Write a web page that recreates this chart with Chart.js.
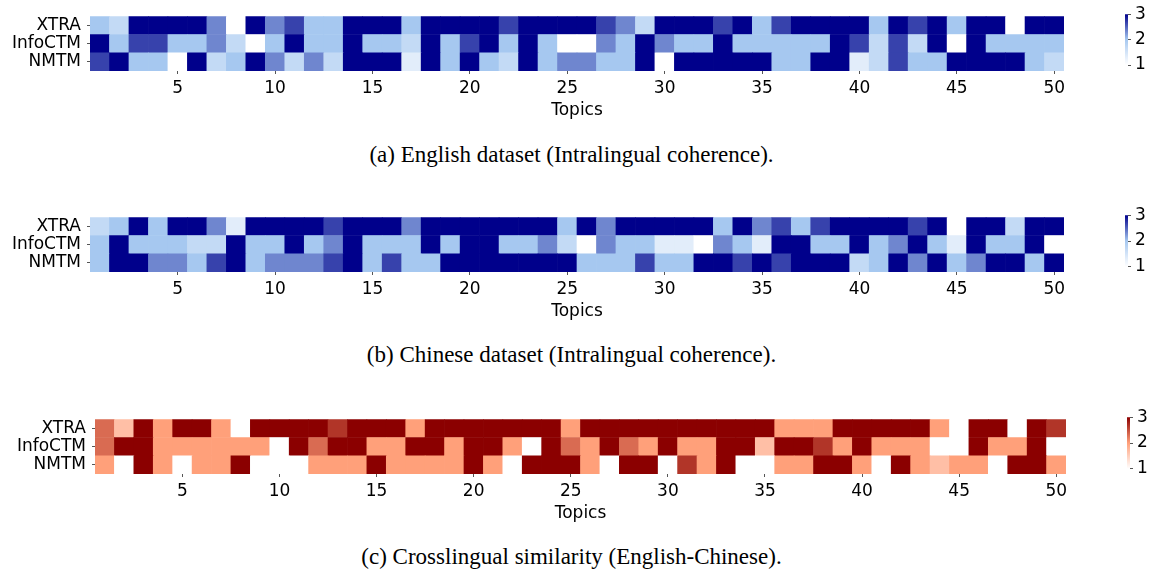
<!DOCTYPE html>
<html>
<head>
<meta charset="utf-8">
<script src="https://cdn.jsdelivr.net/npm/chart.js@4.4.1/dist/chart.umd.min.js"></script>
<style>
    body { margin: 0; background: #fff; width: 1153px; height: 574px; position: relative; overflow: hidden; }
    canvas { position: absolute; }
    .caption {
        position: absolute; left: 0; width: 1143px; text-align: center;
        font-family: "Liberation Serif", "Times New Roman", serif; font-size: 23px;
        line-height: 26px; color: #000;
    }
</style>
</head>
<body>
<canvas id="heatEn" width="1153" height="124" style="left:0;top:0"></canvas>
<canvas id="cbarEn" width="53" height="80" style="left:1100px;top:0"></canvas>
<div class="caption" style="top:142px">(a) English dataset (Intralingual coherence).</div>

<canvas id="heatZh" width="1153" height="124" style="left:0;top:201px"></canvas>
<canvas id="cbarZh" width="53" height="80" style="left:1100px;top:201px"></canvas>
<div class="caption" style="top:342px">(b) Chinese dataset (Intralingual coherence).</div>

<canvas id="heatCross" width="1153" height="124" style="left:0;top:403px"></canvas>
<canvas id="cbarCross" width="53" height="80" style="left:1102px;top:403px"></canvas>
<div class="caption" style="top:544px">(c) Crosslingual similarity (English-Chinese).</div>

<script>
const topics = Array.from({ length: 50 }, (_, i) => String(i + 1));
const models = ['XTRA', 'InfoCTM', 'NMTM'];
const xTickLabels = ['5', '10', '15', '20', '25', '30', '35', '40', '45', '50'];
const cbarTicks = [1, 2, 3];

// (a) English dataset
const enXTRA    = [2, 1.67, 3, 3, 3, 3, 2.33, 1, 3, 2.33, 2.67, 2, 2, 3, 3, 3, 2, 3, 3, 3, 3, 2.67, 3, 3, 3, 3, 2.67, 2.33, 1.67, 3, 3, 3, 2.67, 3, 2, 2.67, 3, 3, 3, 3, 2, 3, 2.67, 3, 2, 3, 3, 1, 3, 3];
const enInfoCTM = [3, 2, 2.67, 2.67, 2, 2, 2.33, 1.67, 1, 2, 3, 2, 2, 3, 2, 2, 1.67, 3, 2, 2.67, 3, 2, 3, 2, 1, 1, 2.33, 2, 3, 2.33, 2, 2, 3, 2, 2, 2, 2, 2, 3, 2.67, 1.67, 2.67, 1.67, 3, 1, 3, 2, 2, 2, 2];
const enNMTM    = [2.67, 3, 2, 2, 1, 3, 1.67, 2, 3, 2.33, 1.67, 2.33, 1.67, 3, 3, 3, 1.33, 3, 2, 3, 2, 1.67, 3, 2, 2.33, 2.33, 2, 2, 3, 1, 3, 3, 3, 3, 3, 2, 2, 3, 3, 1.33, 1.67, 2.67, 2, 2, 3, 3, 3, 3, 2, 1.67];

// (b) Chinese dataset
const zhXTRA    = [1.67, 2, 3, 2, 3, 3, 2.33, 1.33, 3, 3, 3, 3, 2.67, 3, 3, 3, 2.33, 3, 3, 3, 3, 3, 3, 3, 2, 3, 2.33, 3, 3, 3, 3, 3, 2, 3, 2.33, 2.67, 2, 2.67, 3, 3, 3, 3, 2.67, 3, 1, 3, 3, 1.67, 3, 3];
const zhInfoCTM = [2, 3, 2, 2, 2, 1.67, 1.67, 3, 2, 2, 3, 2, 2.33, 3, 2, 2, 2, 3, 2, 3, 3, 2, 2, 2.33, 1.67, 1, 2.33, 2, 2, 1.33, 1.33, 1, 2.33, 2, 1.33, 3, 3, 2, 2, 3, 2, 2.33, 3, 2, 1.33, 3, 2, 2, 3, 1];
const zhNMTM    = [2, 3, 3, 2.33, 2.33, 2, 2.67, 3, 2, 2.33, 2.33, 2.33, 2.67, 3, 2, 2.67, 2, 2, 3, 3, 3, 3, 3, 3, 3, 2, 2, 2, 2.67, 2, 2, 3, 3, 2.67, 3, 2.67, 3, 3, 3, 1.67, 2, 3, 2.33, 3, 2, 2.33, 3, 3, 2, 3];

// (c) Crosslingual similarity
const crossXTRA    = [2.33, 1.67, 3, 2, 3, 3, 2, 1, 3, 3, 3, 3, 2.67, 3, 3, 3, 2, 3, 3, 3, 3, 3, 3, 3, 2, 3, 3, 3, 3, 3, 3, 3, 3, 3, 3, 2, 2, 2, 3, 3, 3, 3, 3, 2, 1, 3, 3, 1, 3, 2.67];
const crossInfoCTM = [2.33, 3, 3, 2, 2, 2, 2, 2, 2, 1, 3, 2.33, 3, 3, 2, 2, 3, 3, 2, 3, 3, 2, 1, 3, 2.33, 2, 3, 2.33, 2, 3, 2, 2, 3, 3, 1.67, 3, 3, 2.67, 2, 3, 2, 2, 2, 1, 1, 3, 2, 2, 3, 1];
const crossNMTM    = [2, 1, 3, 2, 1, 2, 2, 3, 1, 1, 1, 2, 2, 2, 3, 2, 2, 2, 2, 3, 2, 1, 3, 3, 3, 2, 1, 3, 3, 1, 2.67, 2, 3, 1, 1, 2, 2, 3, 3, 2, 1, 3, 2, 1.67, 2, 2, 1, 3, 3, 2];

// colour maps: value 1 -> first, 2 -> middle, 3 -> last
const blueMap = [[255, 255, 255], [166, 200, 240], [0, 0, 139]];
const redMap = [[255, 255, 255], [255, 160, 122], [139, 0, 0]];

const tickFont = { family: 'DejaVu Sans', size: 17 };
const tickColor = '#555';

function cellColor(v, cmap) {
    const t = Math.max(0, Math.min(2, v - 1));
    const lo = t <= 1 ? cmap[0] : cmap[1];
    const hi = t <= 1 ? cmap[1] : cmap[2];
    const f = t <= 1 ? t : t - 1;
    const c = lo.map((ch, i) => Math.round(ch + (hi[i] - ch) * f));
    return 'rgb(' + c.join(',') + ')';
}

function drawHeatmap(canvasId, rows, cmap, left, right) {
    // stacked from the bottom: NMTM, InfoCTM, XTRA
    const datasets = models.slice().reverse().map(name => ({
        label: name,
        data: rows[name].map(() => 1),
        backgroundColor: rows[name].map(v => cellColor(v, cmap)),
        borderWidth: 0,
        barPercentage: 1,
        categoryPercentage: 1
    }));

    new Chart(document.getElementById(canvasId), {
        type: 'bar',
        data: { labels: topics, datasets: datasets },
        options: {
            responsive: false,
            animation: false,
            layout: { padding: { left: 0, right: 1153 - right, top: 6, bottom: 0 } },
            plugins: {
                legend: { display: false },
                tooltip: {
                    callbacks: {
                        label: (ctx) => ctx.dataset.label + ': ' + rows[ctx.dataset.label][ctx.dataIndex]
                    }
                }
            },
            scales: {
                x: {
                    stacked: true,
                    offset: true,
                    afterFit: (s) => { s.height = 53; },
                    ticks: {
                        autoSkip: false,
                        maxRotation: 0,
                        padding: 4,
                        font: tickFont,
                        color: '#000',
                        callback: (v, i) => xTickLabels.includes(topics[i]) ? topics[i] : null
                    },
                    grid: { offset: false, drawOnChartArea: false, tickLength: 3, color: tickColor },
                    border: { display: false },
                    title: {
                        display: true, text: 'Topics', font: tickFont, color: '#000',
                        padding: { top: 0, bottom: 3 }
                    }
                },
                y: {
                    stacked: true,
                    min: 0,
                    max: 3,
                    afterFit: (s) => { s.width = left; },
                    afterBuildTicks: (s) => { s.ticks = [0.5, 1.5, 2.5].map(v => ({ value: v })); },
                    ticks: {
                        padding: 6,
                        font: tickFont,
                        color: '#000',
                        callback: (v) => models[2 - Math.floor(v)]
                    },
                    grid: { drawOnChartArea: false, tickLength: 3, color: tickColor },
                    border: { display: false }
                }
            }
        }
    });
}

function drawColorbar(canvasId, cmap, top, bottom) {
    new Chart(document.getElementById(canvasId), {
        type: 'bar',
        data: {
            labels: [''],
            datasets: [{
                data: [[cbarTicks[0], cbarTicks[cbarTicks.length - 1]]],
                backgroundColor: (ctx) => {
                    const chart = ctx.chart;
                    const ys = chart.scales.y;
                    if (!ys || !chart.chartArea) return null;
                    const g = chart.ctx.createLinearGradient(0, ys.getPixelForValue(1), 0, ys.getPixelForValue(3));
                    g.addColorStop(0, cellColor(1, cmap));
                    g.addColorStop(0.5, cellColor(2, cmap));
                    g.addColorStop(1, cellColor(3, cmap));
                    return g;
                },
                borderWidth: 0,
                barPercentage: 1,
                categoryPercentage: 1
            }]
        },
        options: {
            responsive: false,
            animation: false,
            layout: { padding: { left: 25, right: 0, top: top, bottom: 80 - bottom } },
            plugins: { legend: { display: false }, tooltip: { enabled: false } },
            scales: {
                x: { display: false },
                y: {
                    position: 'right',
                    min: 1,
                    max: 3,
                    afterFit: (s) => { s.width = 25; },
                    afterBuildTicks: (s) => { s.ticks = cbarTicks.map(v => ({ value: v })); },
                    ticks: { padding: 4, font: tickFont, color: '#000' },
                    grid: { drawOnChartArea: false, tickLength: 3, color: tickColor },
                    border: { display: false }
                }
            }
        }
    });
}

drawHeatmap('heatEn', { XTRA: enXTRA, InfoCTM: enInfoCTM, NMTM: enNMTM }, blueMap, 90, 1064);
drawColorbar('cbarEn', blueMap, 14, 65);

drawHeatmap('heatZh', { XTRA: zhXTRA, InfoCTM: zhInfoCTM, NMTM: zhNMTM }, blueMap, 90, 1064);
drawColorbar('cbarZh', blueMap, 14, 66);

drawHeatmap('heatCross', { XTRA: crossXTRA, InfoCTM: crossInfoCTM, NMTM: crossNMTM }, redMap, 95, 1066);
drawColorbar('cbarCross', redMap, 14, 66);
</script>
</body>
</html>
